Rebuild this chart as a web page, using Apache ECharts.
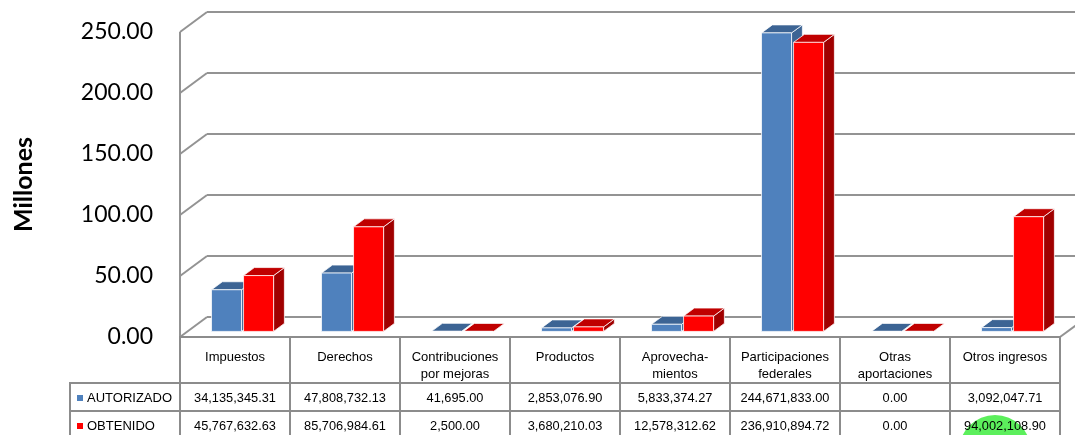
<!DOCTYPE html>
<html>
<head>
<meta charset="utf-8">
<script src="https://cdn.jsdelivr.net/npm/echarts@6/dist/echarts.min.js"></script>
<style>
  html, body { margin: 0; padding: 0; background: #fff; }
  #chart { width: 1075px; height: 435px; }
</style>
</head>
<body>
<div id="chart"></div>
<script>
// datos (pesos)
const categories = ['Impuestos', 'Derechos', 'Contribuciones\npor mejoras', 'Productos',
  'Aprovecha-\nmientos', 'Participaciones\nfederales', 'Otras\naportaciones', 'Otros ingresos']
const seriesNames = ['AUTORIZADO', 'OBTENIDO']
const autorizado = [34135345.31, 47808732.13, 41695.00, 2853076.90, 5833374.27, 244671833.00, 0.00, 3092047.71]
const obtenido = [45767632.63, 85706984.61, 2500.00, 3680210.03, 12578312.62, 236910894.72, 0.00, 94002108.90]
const yTicks = [0, 50, 100, 150, 200, 250]

const DEPTH = [27, -20]       // desplazamiento de la pared del fondo
const BAR_FRONT = 0.28        // profundidad donde empieza la barra
const BAR_DEPTH = 0.4         // grosor de la barra
const GRID_COLOR = '#939393'
const FACES = [
    {front: '#4F81BD', top: '#3C6494', side: '#3C6494'},
    {front: '#FF0000', top: '#C00000', side: '#A00000'}
]

function fmt(n) {
    const parts = n.toFixed(2).split('.')
    return parts[0].replace(/\B(?=(\d{3})+(?!\d))/g, ',') + '.' + parts[1]
}

const chart = echarts.init(document.getElementById('chart'))

function renderFrame(params, api) {
    const cs = params.coordSys
    const v = api.value(1)
    const y = api.coord([0, v])[1]
    const x0 = cs.x, x1 = cs.x + cs.width
    const lineStyle = {stroke: GRID_COLOR, lineWidth: 2}
    const children = [
        {type: 'line', shape: {x1: x0, y1: y, x2: x0 + DEPTH[0], y2: y + DEPTH[1]}, style: lineStyle},
        {type: 'line', shape: {x1: x0 + DEPTH[0], y1: y + DEPTH[1], x2: x1 + DEPTH[0], y2: y + DEPTH[1]}, style: lineStyle}
    ]
    if (v === 0) {
        const yTop = api.coord([0, yTicks[yTicks.length - 1]])[1]
        children.push(
            {type: 'line', shape: {x1: x0, y1: y, x2: x0, y2: yTop}, style: lineStyle},
            {type: 'line', shape: {x1: x0, y1: y, x2: x1, y2: y}, style: lineStyle},
            {type: 'line', shape: {x1: x1, y1: y, x2: x1 + DEPTH[0], y2: y + DEPTH[1]}, style: lineStyle}
        )
    }
    return {type: 'group', children: children}
}

function makeBoxRenderer(idx) {
    const c = FACES[idx]
    return function (params, api) {
        const cat = api.value(0)
        const base = api.coord([cat, 0])
        const top = api.coord([cat, api.value(1)])
        const band = api.size([1, 0])[0]
        const w = band * 0.273
        const gap = 2
        const ox = DEPTH[0] * BAR_FRONT, oy = DEPTH[1] * BAR_FRONT
        const dx = DEPTH[0] * BAR_DEPTH, dy = DEPTH[1] * BAR_DEPTH
        const x = base[0] + (idx === 0 ? -w - gap / 2 : gap / 2) + ox
        const yb = base[1] + oy, yt = top[1] + oy
        const edge = {stroke: 'rgba(255,255,255,0.75)', lineWidth: 1}
        return {
            type: 'group',
            children: [
                {type: 'polygon', shape: {points: [[x + w, yt], [x + w, yb], [x + w + dx, yb + dy], [x + w + dx, yt + dy]]},
                    style: Object.assign({fill: c.side}, edge)},
                {type: 'polygon', shape: {points: [[x, yt], [x + w, yt], [x + w + dx, yt + dy], [x + dx, yt + dy]]},
                    style: Object.assign({fill: c.top}, edge)},
                {type: 'rect', shape: {x: x, y: yt, width: w, height: Math.max(yb - yt, 0.01)},
                    style: Object.assign({fill: c.front}, edge)}
            ]
        }
    }
}

function renderTable(params, api) {
    const i = api.value(0)
    const c = api.coord([i, 0])
    const band = api.size([1, 0])[0]
    const x0 = c[0] - band / 2
    const rows = [c[1], c[1] + 46, c[1] + 74, c[1] + 102]
    const border = {stroke: '#8c8c8c', lineWidth: 2, fill: null}
    const font = 'Liberation Sans, Arial, sans-serif'
    const children = [
        {type: 'rect', shape: {x: x0, y: rows[0], width: band, height: rows[1] - rows[0]}, style: border},
        {type: 'rect', shape: {x: x0, y: rows[1], width: band, height: rows[2] - rows[1]}, style: border},
        {type: 'rect', shape: {x: x0, y: rows[2], width: band, height: rows[3] - rows[2]}, style: border},
        {type: 'text', style: {text: categories[i], x: c[0], y: rows[0] + 12, align: 'center', verticalAlign: 'top',
            fontSize: 13, lineHeight: 17, fontFamily: font, fill: '#000'}},
        {type: 'text', style: {text: fmt(autorizado[i]), x: c[0], y: (rows[1] + rows[2]) / 2 + 1, align: 'center',
            verticalAlign: 'middle', fontSize: 12.8, fontFamily: font, fill: '#000'}},
        {type: 'text', style: {text: fmt(obtenido[i]), x: c[0], y: (rows[2] + rows[3]) / 2 + 1, align: 'center',
            verticalAlign: 'middle', fontSize: 12.8, fontFamily: font, fill: '#000'}}
    ]
    if (i === 0) {
        // columna de la leyenda
        const lx = x0 - band
        seriesNames.forEach(function (name, k) {
            const ym = (rows[k + 1] + rows[k + 2]) / 2 + 1
            children.push(
                {type: 'rect', shape: {x: lx, y: rows[k + 1], width: band, height: rows[k + 2] - rows[k + 1]}, style: border},
                {type: 'rect', shape: {x: lx + 7, y: ym - 3, width: 6, height: 6}, style: {fill: FACES[k].front}},
                {type: 'text', style: {text: name, x: lx + 17, y: ym, align: 'left', verticalAlign: 'middle',
                    fontSize: 13, fontFamily: font, fill: '#000'}}
            )
        })
    }
    return {type: 'group', children: children}
}

const option = {
    animation: false,
    grid: {left: 180, right: 15, top: 32, bottom: 98, outerBoundsMode: 'none'},
    xAxis: {
        type: 'category',
        data: categories,
        axisLine: {show: false},
        axisTick: {show: false},
        axisLabel: {show: false}
    },
    yAxis: {
        type: 'value',
        min: 0,
        max: 250,
        interval: 50,
        name: 'Millones',
        nameLocation: 'middle',
        nameRotate: 90,
        nameGap: 144,
        nameTextStyle: {fontFamily: 'Lato', fontWeight: 'bold', fontSize: 25, color: '#000'},
        axisLine: {show: false},
        axisTick: {show: false},
        splitLine: {show: false},
        axisLabel: {
            fontFamily: 'Lato', fontSize: 23, color: '#000', margin: 27,
            formatter: function (v) { return v.toFixed(2) }
        }
    },
    graphic: [
        {type: 'circle', shape: {cx: 995, cy: 451, r: 36}, style: {fill: '#5CEF5C'}, z: 0}
    ],
    series: [
        {type: 'custom', name: 'frame', renderItem: renderFrame, z: 1, silent: true,
            data: yTicks.map(function (t) { return [0, t] })},
        {type: 'custom', name: seriesNames[0], renderItem: makeBoxRenderer(0), z: 2,
            data: autorizado.map(function (v, i) { return [i, v / 1e6] })},
        {type: 'custom', name: seriesNames[1], renderItem: makeBoxRenderer(1), z: 2,
            data: obtenido.map(function (v, i) { return [i, v / 1e6] })},
        {type: 'custom', name: 'tabla', renderItem: renderTable, z: 3, clip: false, silent: true,
            data: categories.map(function (c, i) { return [i, 0] })}
    ]
}
chart.setOption(option)
</script>
</body>
</html>
